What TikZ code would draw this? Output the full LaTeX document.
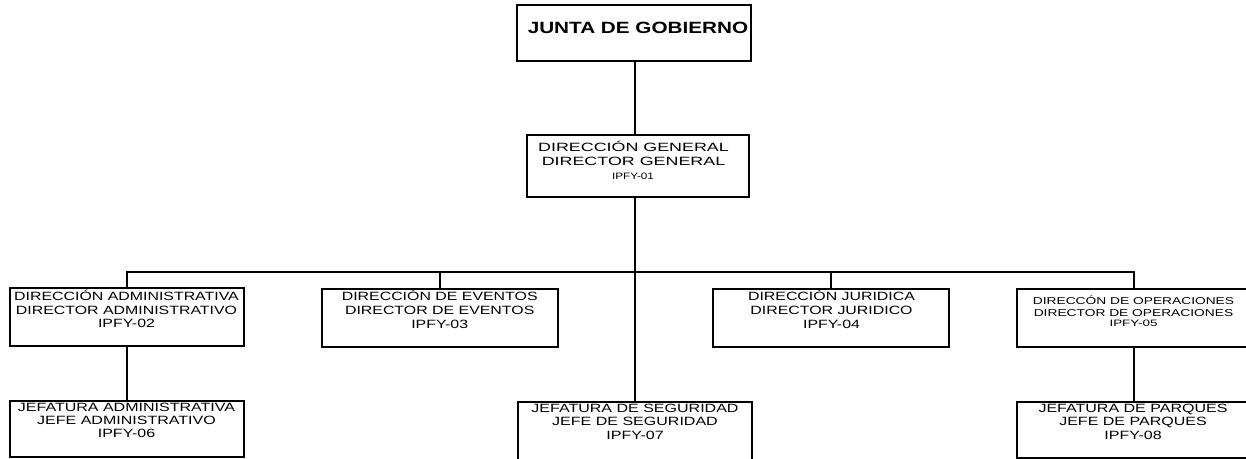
\documentclass[tikz,border=0pt]{standalone}
\usepackage{fontspec}
\setmainfont{Liberation Sans}
\newfontfamily\fjun[FakeStretch=1.27]{Liberation Sans}
\newfontfamily\fdg[FakeStretch=1.49]{Liberation Sans}
\newfontfamily\fst[FakeStretch=1.325]{Liberation Sans}
\newfontfamily\fje[FakeStretch=1.335]{Liberation Sans}
\newfontfamily\fsa[FakeStretch=1.26]{Liberation Sans}
\newfontfamily\fop[FakeStretch=1.377]{Liberation Sans}
\newfontfamily\fsm[FakeStretch=1.44]{Liberation Sans}
\tikzset{
  orgbox/.style={draw=black, line width=1.8pt, rectangle, inner sep=0pt},
  link/.style={draw=black, line width=1.8pt},
  ln/.style={anchor=base, inner sep=0pt, text=black},
  tjun/.style={ln, font=\fjun\bfseries\fontsize{16.3}{18}\selectfont},
  tdg/.style={ln, font=\fdg\fontsize{12}{14}\selectfont},
  tdgs/.style={ln, font=\fsa\fontsize{9.3}{11}\selectfont},
  tst/.style={ln, font=\fst\fontsize{12}{14}\selectfont},
  tje/.style={ln, font=\fje\fontsize{12}{14}\selectfont},
  top/.style={ln, font=\fop\fontsize{10}{12}\selectfont},
  tops/.style={ln, font=\fsm\fontsize{9.3}{11}\selectfont},
}
\begin{document}
\begin{tikzpicture}[x=1pt,y=-1pt]
\useasboundingbox (0,0) rectangle (1246,458);
\clip (0,0) rectangle (1246,458);
\fill[white] (0,0) rectangle (1246,458);
% boxes
\node[orgbox, minimum width=234pt, minimum height=56pt] (jun) at (634,33) {};
\node[orgbox, minimum width=222pt, minimum height=62pt] (dg) at (638,166) {};
\node[orgbox, minimum width=234pt, minimum height=58pt] (adm) at (127,317) {};
\node[orgbox, minimum width=236pt, minimum height=58pt] (eve) at (440,318) {};
\node[orgbox, minimum width=236pt, minimum height=58pt] (jur) at (831,318) {};
\node[orgbox, minimum width=234pt, minimum height=58pt] (ope) at (1134,318) {};
\node[orgbox, minimum width=234pt, minimum height=56pt] (jadm) at (127,429) {};
\node[orgbox, minimum width=234pt, minimum height=60pt] (seg) at (635,432) {};
\node[orgbox, minimum width=234pt, minimum height=56pt] (par) at (1134,430) {};
% connectors
\coordinate (bus) at (635,272);
\draw[link] (jun.south -| bus) -- (dg.north -| bus);
\draw[link] (dg.south -| bus) -- (seg.north -| bus);
\draw[link] (adm.north) |- (bus) -| (ope.north);
\draw[link] (eve.north) -- (eve.north |- bus);
\draw[link] (jur.north) -- (jur.north |- bus);
\draw[link] (adm.south) -- (jadm.north);
\draw[link] (ope.south) -- (par.north);
% texts
\node[tjun] (junt) at (638,33.3) {JUNTA DE GOBIERNO};
\node[tdg] (dgt1) at (633.5,151.3) {DIRECCIÓN GENERAL};
\node[tdg] (dgt2) at (633.5,165.3) {DIRECTOR GENERAL};
\node[tdgs] (dgt3) at (633,179.7) {IPFY-01};
\node[tst] (admt1) at (126.5,300.7) {DIRECCIÓN ADMINISTRATIVA};
\node[tst] (admt2) at (126.5,314.2) {DIRECTOR ADMINISTRATIVO};
\node[tst] (admt3) at (126.5,327.5) {IPFY-02};
\node[tst] (evet1) at (439.7,300.7) {DIRECCIÓN DE EVENTOS};
\node[tst] (evet2) at (439.7,314.5) {DIRECTOR DE EVENTOS};
\node[tst] (evet3) at (439.7,328) {IPFY-03};
\node[tst] (jurt1) at (831.5,300.7) {DIRECCIÓN JURIDICA};
\node[tst] (jurt2) at (831.5,314.5) {DIRECTOR JURIDICO};
\node[tst] (jurt3) at (831.5,328) {IPFY-04};
\node[top] (opet1) at (1133.5,304) {DIRECCÓN DE OPERACIONES};
\node[top] (opet2) at (1133.5,316) {DIRECTOR DE OPERACIONES};
\node[tops] (opet3) at (1133.5,326.7) {IPFY-05};
\node[tje] (jadmt1) at (126.5,411) {JEFATURA ADMINISTRATIVA};
\node[tje] (jadmt2) at (126.5,424.3) {JEFE ADMINISTRATIVO};
\node[tje] (jadmt3) at (126.5,437.7) {IPFY-06};
\node[tje] (segt1) at (635,412.3) {JEFATURA DE SEGURIDAD};
\node[tje] (segt2) at (635,425.7) {JEFE DE SEGURIDAD};
\node[tje] (segt3) at (635,439) {IPFY-07};
\node[tje] (part1) at (1133,412.7) {JEFATURA DE PARQUES};
\node[tje] (part2) at (1133,425.7) {JEFE DE PARQUES};
\node[tje] (part3) at (1133,439) {IPFY-08};
\end{tikzpicture}
\end{document}
